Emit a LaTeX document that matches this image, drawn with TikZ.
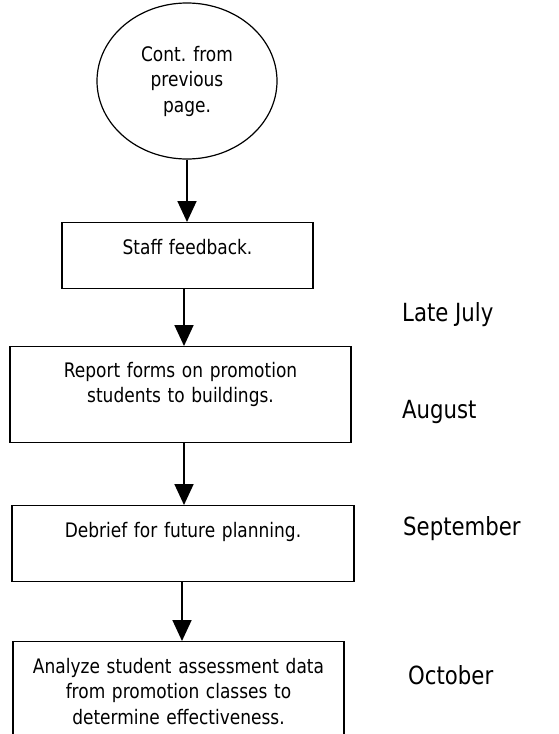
\documentclass[tikz,border=0pt]{standalone}
\usepackage{fontspec}
\setmainfont[FakeStretch=0.85]{DejaVu Sans}
\usepackage{tikz}
\usetikzlibrary{arrows.meta,shapes.geometric}
\newcommand\boxfont{\fontsize{20}{25.5}\selectfont}
\newcommand\monthfont{\fontsize{25}{30}\selectfont}

\begin{document}
\begin{tikzpicture}[x=1pt, y=-1pt,
  stepbox/.style = {shape=rectangle, draw, line width=1.2pt,
    align=center, inner xsep=0pt, inner ysep=0pt, font=\boxfont},
  month/.style = {anchor=west, inner sep=0pt, font=\monthfont},
  flow/.style = {draw, line width=1.8pt,
    -{Triangle[width=19pt, length=21pt]}}]
  \useasboundingbox (0,0) rectangle (559,734);
  \clip (0,0) rectangle (559,734);

  \node[ellipse, draw, line width=1.2pt, minimum width=180pt,
    minimum height=156pt, inner sep=0pt, align=center, font=\boxfont]
    (cont) at (187,81) {Cont. from\\previous\\page.};
  \node[stepbox, text width=251pt, text height=31.5pt, text depth=34.5pt]
    (feedback) at (187.5,222) [anchor=north] {Staff feedback.};
  \node[stepbox, text width=341pt, text height=30.5pt, text depth=65.5pt]
    (report) at (180.5,346) [anchor=north]
    {Report forms on promotion\\students to buildings.};
  \node[stepbox, text width=342pt, text height=31.5pt, text depth=44.5pt]
    (debrief) at (183,505) [anchor=north] {Debrief for future planning.};
  \node[stepbox, text width=331pt, text height=31.5pt, text depth=68.5pt]
    (analyze) at (178.5,641) [anchor=north]
    {Analyze student assessment data\\from promotion classes to\\determine effectiveness.};

  \node[month] (latejuly) at (402,315) {Late July};
  \node[month] (august) at (402,412) {August};
  \node[month] (september) at (403,529) {September};
  \node[month] (october) at (408,675) {October};

  \draw[flow] (cont.south) -- (cont.south |- feedback.north);
  \draw[flow] ([xshift=-3.5pt]feedback.south)
    -- ([xshift=-3.5pt]feedback.south |- report.north);
  \draw[flow] ([xshift=3.5pt]report.south)
    -- ([xshift=3.5pt]report.south |- debrief.north);
  \draw[flow] ([xshift=-1pt]debrief.south)
    -- ([xshift=-1pt]debrief.south |- analyze.north);
\end{tikzpicture}
\end{document}
